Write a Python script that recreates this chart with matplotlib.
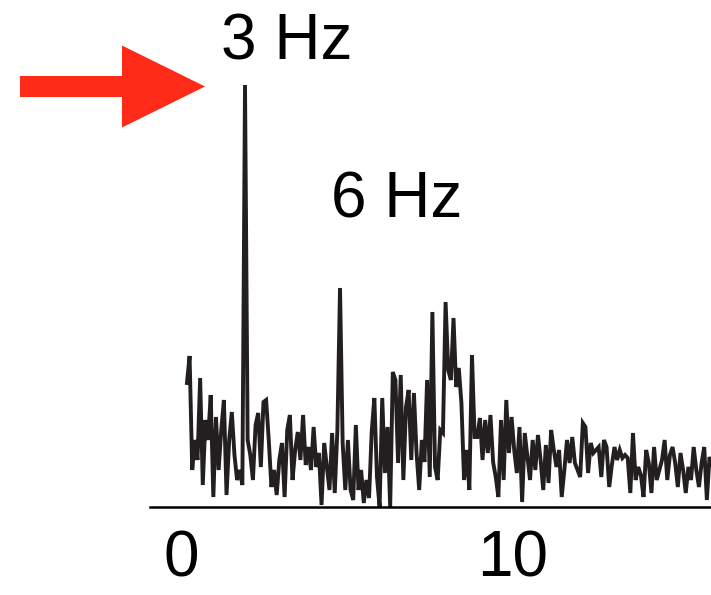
import numpy as np
import matplotlib
matplotlib.use("Agg")
import matplotlib.pyplot as plt
from matplotlib.patches import FancyArrow
from matplotlib.transforms import ScaledTranslation

plt.rcParams["font.family"] = ["Liberation Sans", "DejaVu Sans"]

# Power spectrum (arbitrary units), frequency resolution 1/12 Hz, first bin 14/12 Hz
freq_resolution = 1 / 12
first_bin = 14
power = [
    124, 151, 37, 67, 47, 129, 22, 87, 67, 112, 10, 90, 37, 77, 107, 12, 67, 95, 52, 27, 37, 22,
    422,
    67, 52, 27, 82, 94, 40, 105, 107, 67, 20, 37, 12, 47, 64, 10, 77, 92, 27, 57, 75, 47, 92,
    42, 60, 37, 80, 40, 54, 2, 64, 40, 17, 74, 14, 77,
    219,
    64, 17, 67, 17, 7, 82, 17, 37, 4, 27, 9, 75, 109, 30, 0, 109, 34, 80, 0, 135,
    127, 44, 132, 27, 100, 117, 47, 114, 54, 17, 67, 45, 127, 30, 195, 40, 27, 77, 74, 205,
    137, 127, 189, 120, 139, 104, 27, 57, 17, 152, 70, 70, 89, 47, 87, 54, 92, 45, 30, 10,
    87, 27, 107, 54, 90, 57, 34, 80, 5, 74, 50, 27, 67, 37, 72,
    47, 17, 62, 24, 77, 57, 40, 57, 10, 37, 67, 44, 70, 44, 37, 30, 84, 80, 34, 64,
    54, 57, 60, 30, 67, 60, 20, 42, 60, 47, 57, 49, 52, 49, 14, 74, 27, 40, 32, 10,
    57, 44, 14, 60, 27, 37, 47, 67, 27, 52, 60, 44, 20, 54, 37, 14, 40, 27, 60, 37,
    20, 44, 60, 7, 50, 42,
]
freqs = (first_bin + np.arange(len(power))) * freq_resolution

peak_labels = ["3 Hz", "6 Hz"]
peak_freqs = [3.0, 6.0]
tick_values = [0, 10]
tick_labels = ["0", "10"]

W, H, DPI = 711, 595, 100
fig = plt.figure(figsize=(W / DPI, H / DPI), dpi=DPI)
ax = fig.add_axes([150 / W, 88 / H, 1 - 150 / W, 1 - 88 / H])

ax.plot(freqs, power, color="#231F20", lw=2.8, solid_joinstyle="miter")

ax.set_xlim(0, (W - 150) / 31.67)
ax.set_ylim(0, 507)

for s in ("top", "right", "left"):
    ax.spines[s].set_visible(False)
ax.spines["bottom"].set_linewidth(1.8)
ax.spines["bottom"].set_color("black")
ax.set_yticks([])

ax.set_xticks(tick_values, tick_labels, fontsize=46)
ax.tick_params(axis="x", length=0, pad=16)
# nudge the tick labels to sit right of their ticks
for lab, dx in zip(ax.get_xticklabels(), [31, 46]):
    lab.set_transform(lab.get_transform() + ScaledTranslation(dx / DPI, 0, fig.dpi_scale_trans))

# peak annotations
pk_idx = [int(round(f / freq_resolution)) - first_bin for f in peak_freqs]
text_offsets = [(1.33, 26), (1.8, 71)]
for lab, i, (dx, dy) in zip(peak_labels, pk_idx, text_offsets):
    ax.text(freqs[i] + dx, power[i] + dy, lab, fontsize=46,
            ha="center", va="baseline", color="black")

# red arrow pointing at the 3 Hz peak
arrow = FancyArrow(0.20, (H - 86.5) / DPI, 1.85, 0, width=0.21, head_width=0.82,
                   head_length=0.83, length_includes_head=True,
                   color="#FF2A17", lw=0, transform=fig.dpi_scale_trans)
fig.add_artist(arrow)

fig.savefig("out.png", dpi=DPI)
